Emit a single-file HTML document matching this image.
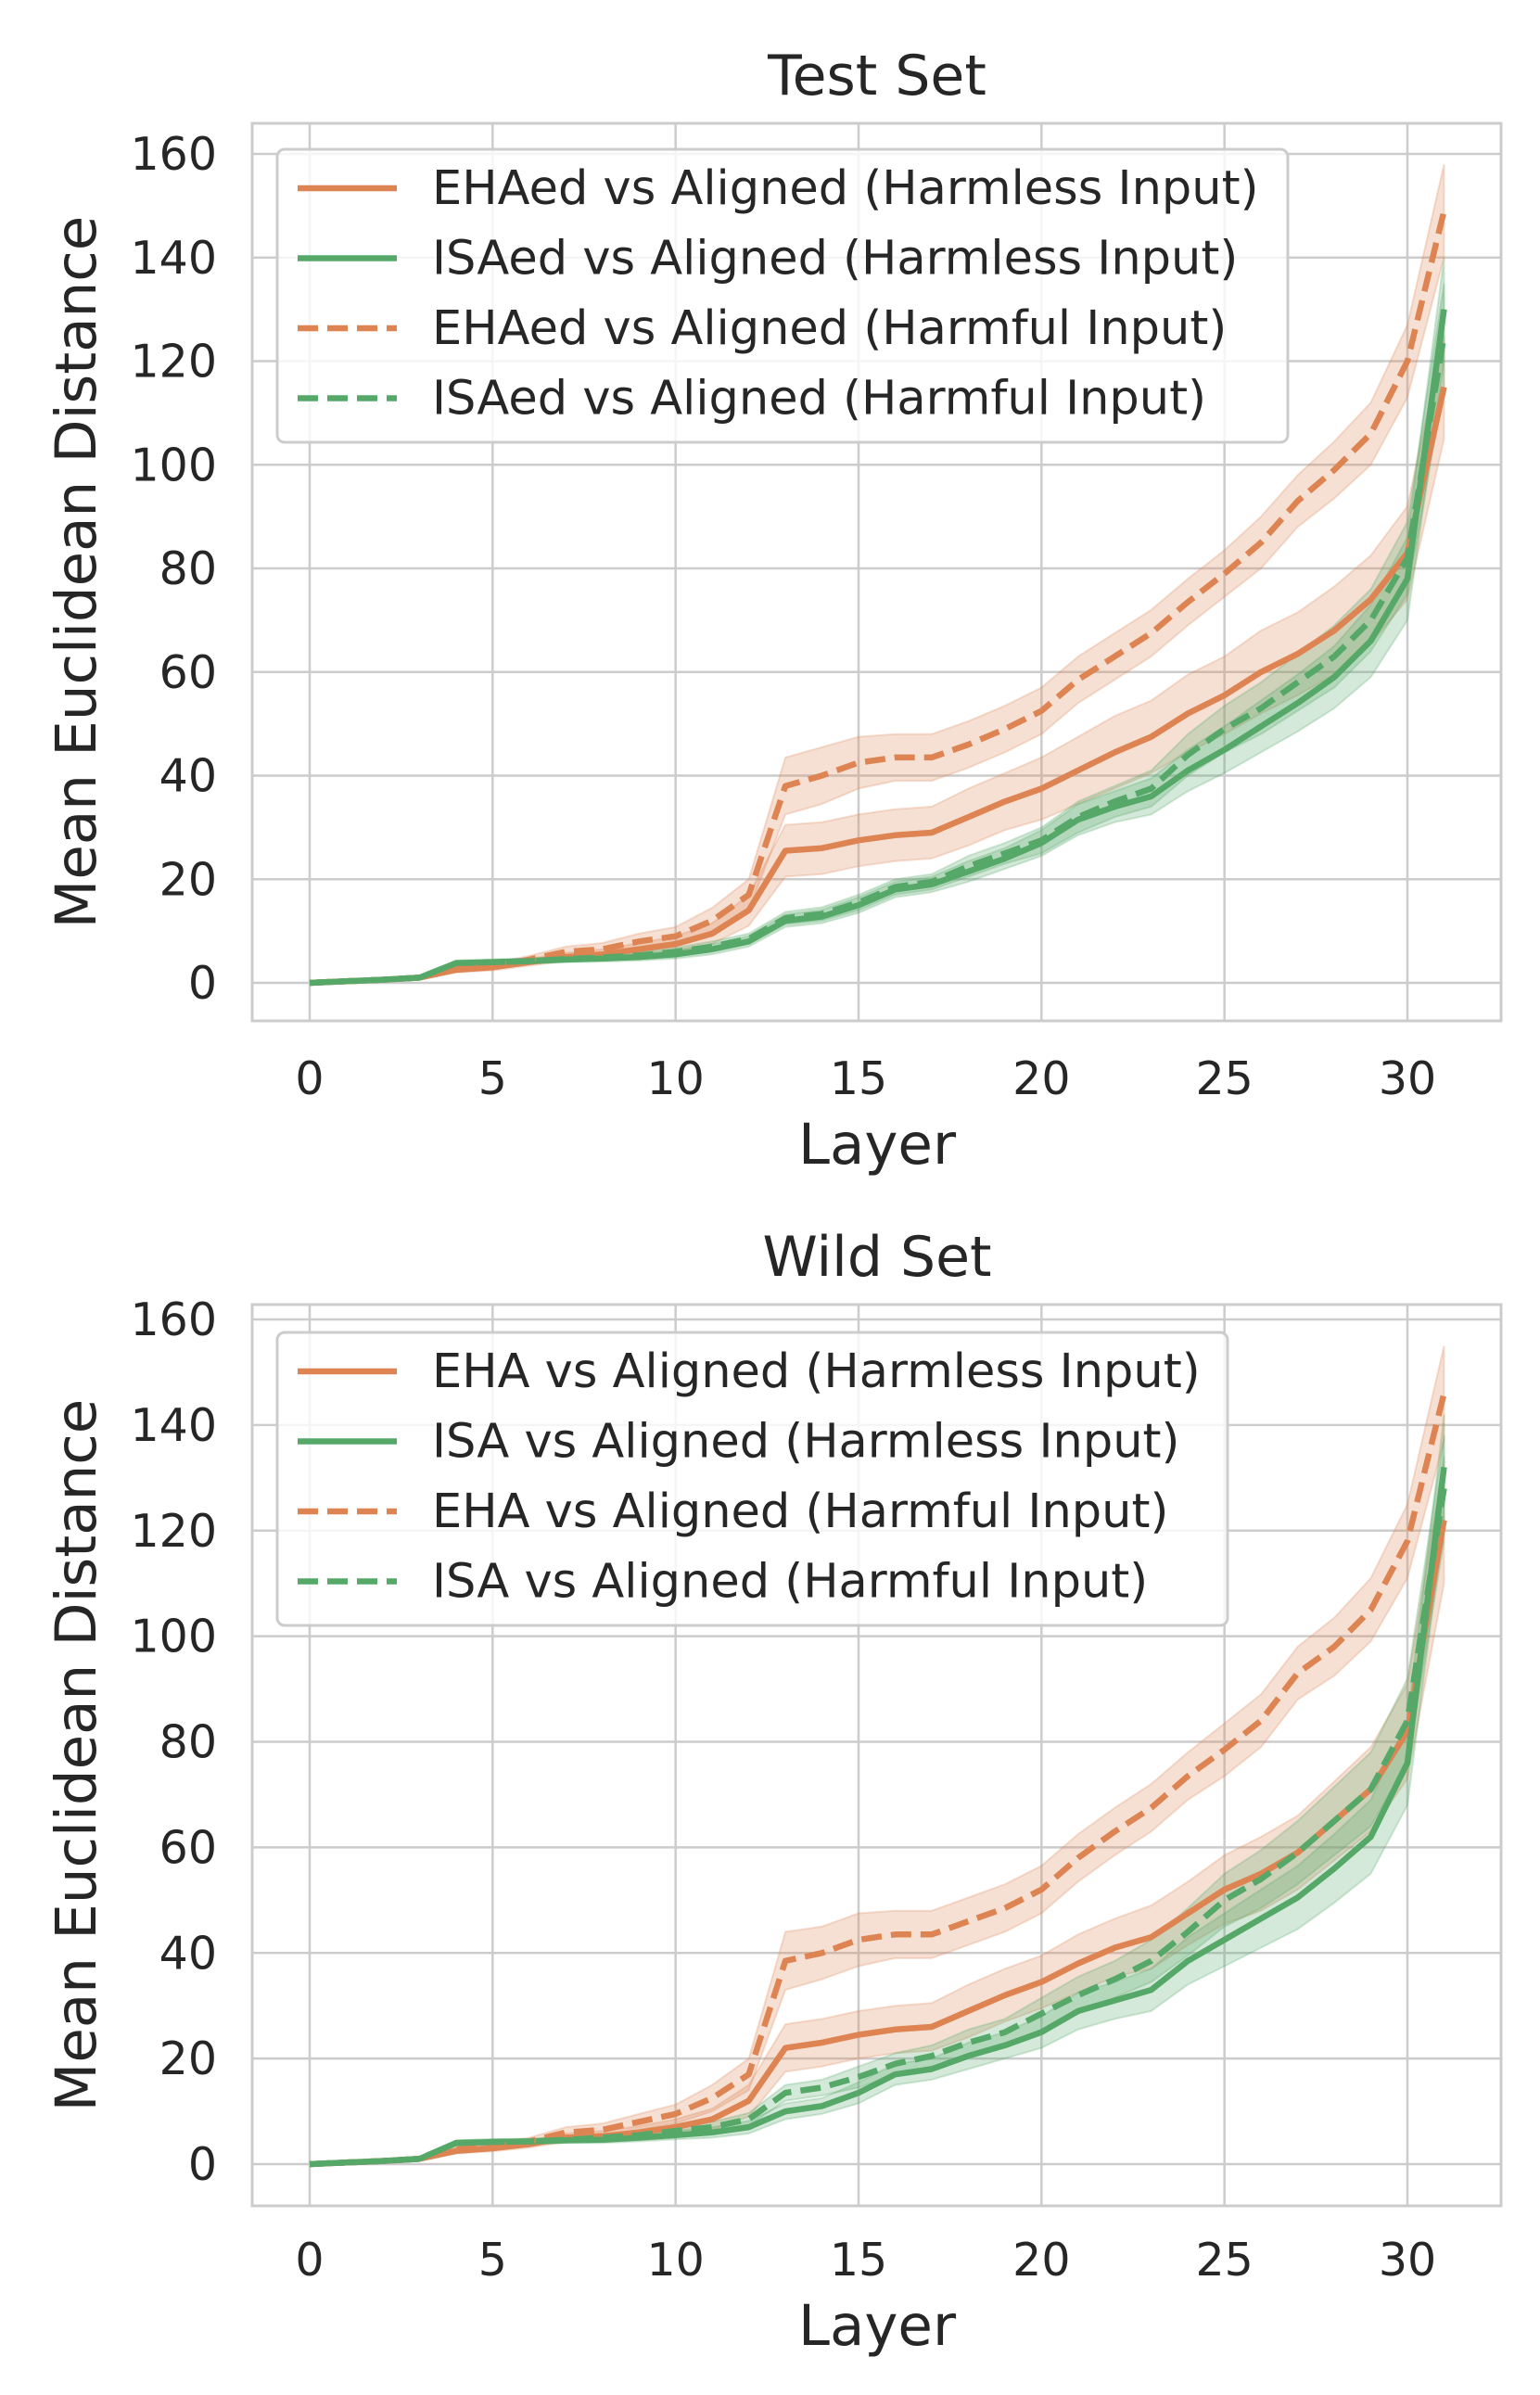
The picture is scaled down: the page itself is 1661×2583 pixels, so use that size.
<!DOCTYPE html>
<html><head><meta charset="utf-8"><style>
html,body{margin:0;padding:0;background:#fff;}
svg{display:block;font-family:"DejaVu Sans","Liberation Sans",sans-serif;}
</style></head><body>
<svg id="fig" width="1661" height="2583" viewBox="0 0 1661 2583" xmlns="http://www.w3.org/2000/svg"></svg>
<script>
const layers = [...Array(32).keys()];
const xTicks = [0,5,10,15,20,25,30];
const yTicks = [0,20,40,60,80,100,120,140,160];

// Test set
const testEhaHarmless = [0,0.3,0.6,1,2.5,3,4,5,5.5,6.5,7.5,9.5,14,25.5,26,27.5,28.5,29,32,35,37.5,41,44.5,47.5,52,55.5,60,63.5,68,74,83,115];
const testEhaHarmlessErr = [0,0.1,0.2,0.3,0.5,0.6,0.7,0.8,1,1.2,1.5,2,3,5,5,5,5,5,5.5,5.5,6,6.5,7,7,7.5,7.5,8,8,8.5,8.5,9,10];
const testIsaHarmless = [0,0.3,0.6,1,3.8,4,4.2,4.5,4.7,5,5.5,6.5,8,12,12.8,15,18,19,21.5,24,27,31.5,34,36,41,45,49.5,54,59,66,78,130];
const testIsaHarmlessErr = [0,0.1,0.2,0.3,0.5,0.5,0.5,0.5,0.6,0.7,0.8,1,1,1.2,1.3,1.5,1.5,1.5,2,2,2.5,3,3,3.5,4,4.5,5,5.5,6,7,8,10];
const testEhaHarmful = [0,0.3,0.6,1,2.8,3.2,4.5,6,6.5,8,9,12,17,38,40,42.5,43.5,43.5,46,49,52.5,58.5,63,67.5,73.5,79,85,93,99,106,120,149];
const testEhaHarmfulErr = [0,0.1,0.2,0.3,0.5,0.6,0.7,1,1.2,1.5,1.8,2.5,3,5.5,5.5,5,4.5,4.5,4.5,4.5,4.5,4.5,4.5,4.5,4.5,4.5,5,5,5.5,6,7,9];
const testIsaHarmful = [0,0.3,0.6,1,3.8,4,4.2,4.6,4.9,5.3,6,7,8.5,12.5,13.3,15.5,18.5,19.5,22.5,25,27.5,32,35,37.5,44,49,53,58,63,70,82,125];
const testIsaHarmfulErr = [0,0.1,0.2,0.3,0.5,0.5,0.5,0.5,0.6,0.7,0.8,1,1,1.2,1.3,1.5,1.5,1.5,2,2,2.5,3,3,3.5,4,4.5,5,5.5,6,6,7,10];

// Wild set
const wildEhaHarmless = [0,0.3,0.6,1,2.5,3,3.8,5,5.3,6,7,8.5,12,22,23,24.5,25.5,26,29,32,34.5,38,41,43,47.5,52,55,59,65,71,82,122];
const wildEhaHarmlessErr = [0,0.1,0.2,0.3,0.5,0.6,0.7,0.8,1,1.2,1.5,2,3,4.5,4.5,4.5,4.5,4.5,5,5,5,5.5,5.5,6,6,6.5,7,7,7.5,8,9,12];
const wildIsaHarmless = [0,0.3,0.6,1,4,4.2,4.3,4.5,4.6,5,5.5,6,7,10,11,13.5,17,18,20.5,22.5,25,29,31,33,38.5,42.5,46.5,50.5,56,62,76,132];
const wildIsaHarmlessErr = [0,0.1,0.2,0.3,0.5,0.5,0.5,0.5,0.6,0.7,0.8,1,1.2,1.5,1.5,2,2,2,2.5,2.5,3,3.5,3.5,4,4.5,5,5.5,6,6.5,7,8,10];
const wildEhaHarmful = [0,0.3,0.6,1,2.8,3.2,4.3,6,6.5,8,9.5,12.5,17,38.5,40,42.5,43.5,43.5,46,48.5,52,58,63,67.5,73.5,78.5,84,93,98,105,118,146];
const wildEhaHarmfulErr = [0,0.1,0.2,0.3,0.5,0.6,0.7,1,1.2,1.5,1.8,2.5,3,5.5,5,5,4.5,4.5,4.5,4.5,4.5,4.5,4.5,4.5,4.5,5,5,5,5.5,6,7,9];
const wildIsaHarmful = [0,0.3,0.6,1,4,4.2,4.3,4.6,5,5.5,6.3,7,8.5,13.5,14.5,16.5,19,20.5,23,25,28.5,32,35,38.5,44,50,54,59,65,71,84,128];
const wildIsaHarmfulErr = [0,0.1,0.2,0.3,0.5,0.5,0.5,0.5,0.6,0.7,0.8,1,1.2,1.5,1.5,2,2,2,2.5,2.5,3,3.5,3.5,4,4.5,5,5.5,6,6.5,7,8,10];

const ORANGE = '#dd8452', GREEN = '#55a868';
const NS = 'http://www.w3.org/2000/svg';
const svg = document.getElementById('fig');
function mk(tag, attrs, parent, text){
  const e = document.createElementNS(NS, tag);
  for (const k in attrs) e.setAttribute(k, attrs[k]);
  if (text !== undefined) e.textContent = text;
  (parent||svg).appendChild(e);
  return e;
}

function panel(cfg){
  const g = mk('g', {});
  
  
  const L=272, R=1619, T=cfg.top, B=cfg.bottom;
  const x0=334, x30=1518;
  const xs = v => x0 + (x30-x0)*v/30;
  const ys = v => cfg.y0 + (cfg.y160-cfg.y0)*v/160;
  xTicks.forEach(t=>{
    const l = mk('line',{x1:xs(t),x2:xs(t),y1:T,y2:B,stroke:'#cccccc','stroke-width':2.5},g);
    
    
    const tx = mk('text',{x:xs(t),y:cfg.xTickY,'text-anchor':'middle','font-size':49,fill:'#262626'},g,String(t));
    
    
  });
  yTicks.forEach(t=>{
    const l = mk('line',{x1:L,x2:R,y1:ys(t),y2:ys(t),stroke:'#cccccc','stroke-width':2.5},g);
    
    
    const tx = mk('text',{x:234,y:ys(t)+17,'text-anchor':'end','font-size':49,fill:'#262626'},g,String(t));
    
    
  });
  const fr = mk('rect',{x:L,y:T,width:R-L,height:B-T,fill:'none',stroke:'#cccccc','stroke-width':3},g);
  
  
  cfg.series.forEach(s=>{
    let d='';
    layers.forEach((i)=>{ d += (i?'L':'M') + xs(i).toFixed(1)+','+ys(s.v[i]+s.e[i]).toFixed(1); });
    for (let i=layers.length-1;i>=0;i--) d += 'L'+xs(i).toFixed(1)+','+ys(s.v[i]-s.e[i]).toFixed(1);
    const p = mk('path',{d:d+'Z',fill:s.c,'fill-opacity':0.25,stroke:s.c,'stroke-opacity':0.25,'stroke-width':2},g);
    
    
  });
  cfg.series.forEach(s=>{
    const pts = layers.map(i=>xs(i).toFixed(1)+','+ys(s.v[i]).toFixed(1)).join(' ');
    const a = {points:pts,fill:'none',stroke:s.c,'stroke-width':6.5,'stroke-linejoin':'round'};
    if (s.dash) a['stroke-dasharray']='22,10';
    const p = mk('polyline',a,g);
    
    
  });
  const lg = mk('g',{},g);
  
  
  mk('rect',{x:299,y:cfg.legTop,width:cfg.legW,height:316,rx:8,fill:'#ffffff','fill-opacity':0.8,stroke:'#cccccc','stroke-width':3},lg);
  cfg.series.forEach((s,k)=>{
    const y = cfg.legTop + 42 + k*75.5;
    const a = {x1:321,x2:428,y1:y,y2:y,stroke:s.c,'stroke-width':6.5};
    if (s.dash) a['stroke-dasharray']='22,10';
    const ln = mk('line',a,lg);
    
    
    const t = mk('text',{x:466,y:y+17,'font-size':51,fill:'#262626'},lg,s.label);
    
    
  });
  const ti = mk('text',{x:946,y:cfg.titleY,'text-anchor':'middle','font-size':60,fill:'#262626'},g,cfg.title);
  
  
  const xl = mk('text',{x:946,y:cfg.xLabelY,'text-anchor':'middle','font-size':61,fill:'#262626'},g,'Layer');
  
  
  const cy = (T+B)/2;
  const yl = mk('text',{x:0,y:0,'text-anchor':'middle','font-size':61,fill:'#262626',transform:`translate(103,${cy}) rotate(-90)`},g,'Mean Euclidean Distance');
  
  
}

panel({id:'test-set', title:'Test Set', top:133, bottom:1101, y0:1060, y160:166,
  xTickY:1180, xLabelY:1255, titleY:102, legTop:161, legW:1090,
  series:[
    {name:'ehaed-harmless',label:'EHAed vs Aligned (Harmless Input)',v:testEhaHarmless,e:testEhaHarmlessErr,c:ORANGE,dash:false},
    {name:'isaed-harmless',label:'ISAed vs Aligned (Harmless Input)',v:testIsaHarmless,e:testIsaHarmlessErr,c:GREEN,dash:false},
    {name:'ehaed-harmful',label:'EHAed vs Aligned (Harmful Input)',v:testEhaHarmful,e:testEhaHarmfulErr,c:ORANGE,dash:true},
    {name:'isaed-harmful',label:'ISAed vs Aligned (Harmful Input)',v:testIsaHarmful,e:testIsaHarmfulErr,c:GREEN,dash:true}
  ]});
panel({id:'wild-set', title:'Wild Set', top:1407, bottom:2379, y0:2334, y160:1423,
  xTickY:2454, xLabelY:2529, titleY:1376, legTop:1437, legW:1025,
  series:[
    {name:'eha-harmless',label:'EHA vs Aligned (Harmless Input)',v:wildEhaHarmless,e:wildEhaHarmlessErr,c:ORANGE,dash:false},
    {name:'isa-harmless',label:'ISA vs Aligned (Harmless Input)',v:wildIsaHarmless,e:wildIsaHarmlessErr,c:GREEN,dash:false},
    {name:'eha-harmful',label:'EHA vs Aligned (Harmful Input)',v:wildEhaHarmful,e:wildEhaHarmfulErr,c:ORANGE,dash:true},
    {name:'isa-harmful',label:'ISA vs Aligned (Harmful Input)',v:wildIsaHarmful,e:wildIsaHarmfulErr,c:GREEN,dash:true}
  ]});
</script>
</body></html>
